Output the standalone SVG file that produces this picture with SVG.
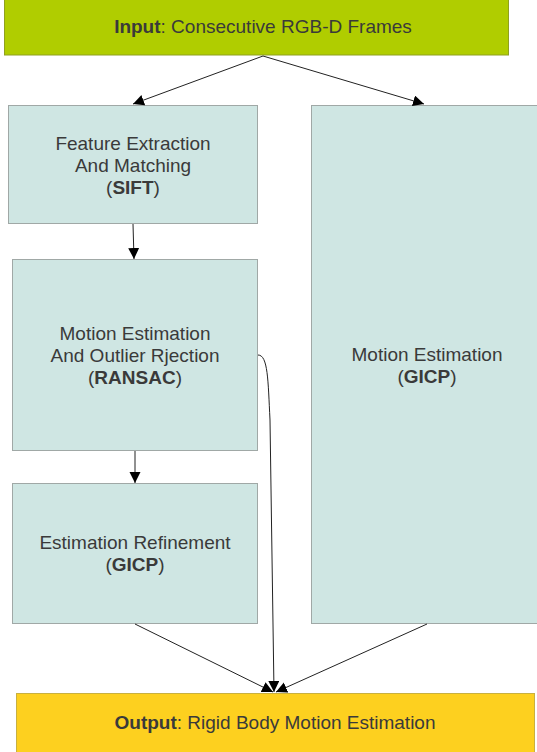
<svg xmlns="http://www.w3.org/2000/svg" width="537" height="752" viewBox="0 0 537 752">
<style>
.box{fill:#cfe6e3;stroke:#a0a8a6;stroke-width:1}
.t{font-family:"Liberation Sans",Arial,sans-serif;font-size:19px;fill:#3a3a3a;text-anchor:middle}
.b{font-weight:bold}
.c{fill:none;stroke:#222;stroke-width:1}
</style>
<defs>
<marker id="ah" markerWidth="12" markerHeight="12" refX="11" refY="5.5" orient="auto" markerUnits="userSpaceOnUse">
<path d="M0,0 L11,5.5 L0,11 Z" fill="#000"/>
</marker>
</defs>
<g id="input">
<rect x="4.5" y="-1" width="504" height="56" fill="#b0cd00" stroke="#8fa020"/>
<text class="t" x="263" y="33"><tspan class="b">Input</tspan>: Consecutive RGB-D Frames</text>
</g>
<g id="feature">
<rect class="box" x="8.5" y="105.5" width="249" height="118"/>
<text class="t" x="133" y="150">Feature Extraction</text>
<text class="t" x="133" y="172">And Matching</text>
<text class="t" x="133" y="194">(<tspan class="b">SIFT</tspan>)</text>
</g>
<g id="ransac">
<rect class="box" x="12.5" y="259.5" width="245" height="191"/>
<text class="t" x="135" y="340">Motion Estimation</text>
<text class="t" x="135" y="362">And Outlier Rjection</text>
<text class="t" x="135" y="384">(<tspan class="b">RANSAC</tspan>)</text>
</g>
<g id="refine">
<rect class="box" x="12.5" y="483.5" width="245" height="140"/>
<text class="t" x="135" y="549">Estimation Refinement</text>
<text class="t" x="135" y="571">(<tspan class="b">GICP</tspan>)</text>
</g>
<g id="gicp">
<rect class="box" x="311.5" y="105.5" width="230" height="518"/>
<text class="t" x="427" y="361">Motion Estimation</text>
<text class="t" x="427" y="383">(<tspan class="b">GICP</tspan>)</text>
</g>
<g id="output">
<rect x="16.5" y="693.5" width="518" height="62" fill="#fdd01f" stroke="#c8b040"/>
<text class="t" x="275" y="729"><tspan class="b">Output</tspan>: Rigid Body Motion Estimation</text>
</g>
<g id="connectors">
<path class="c" d="M263,56 L133,104" marker-end="url(#ah)"/>
<path class="c" d="M263,56 L424,104" marker-end="url(#ah)"/>
<path class="c" d="M133,224 L134,259" marker-end="url(#ah)"/>
<path class="c" d="M135,451 L135,483" marker-end="url(#ah)"/>
<path class="c" d="M258,355 C268,355 268,380 270,420 L274,692" marker-end="url(#ah)"/>
<path class="c" d="M135,624 L273,692" marker-end="url(#ah)"/>
<path class="c" d="M427,624 L276,692" marker-end="url(#ah)"/>
</g>
</svg>
